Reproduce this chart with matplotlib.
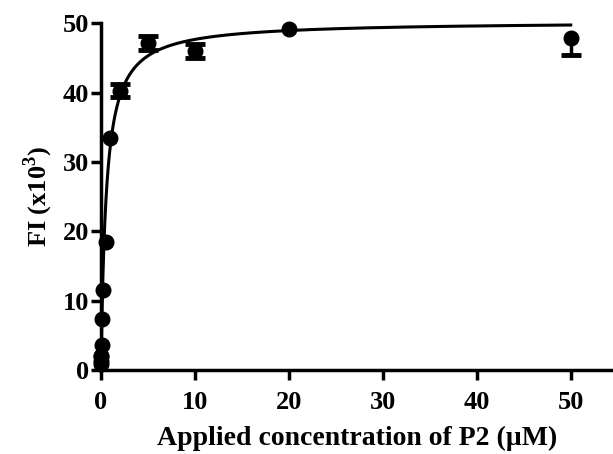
import numpy as np
import matplotlib
matplotlib.use("Agg")
import matplotlib.pyplot as plt

plt.rcParams['font.family'] = ['Liberation Serif', 'DejaVu Serif']
plt.rcParams['font.weight'] = 'bold'
plt.rcParams['mathtext.fontset'] = 'custom'
plt.rcParams['mathtext.bf'] = 'Liberation Serif:bold'
plt.rcParams['mathtext.rm'] = 'Liberation Serif:bold'

conc = [0.0039, 0.0078, 0.0156, 0.03125, 0.0625, 0.125, 0.25, 0.5, 1, 2, 5, 10, 20, 50]
fi = [0.8, 1.3, 2.0, 2.0, 3.6, 7.4, 11.6, 18.4, 33.4, 40.3, 47.2, 46.0, 49.2, 47.9]
err_low = [0, 0, 0, 0, 0, 0, 0, 0, 0, 1.0, 1.0, 1.0, 0, 2.5]
err_high = [0, 0, 0, 0, 0, 0, 0, 0, 0, 1.0, 1.0, 1.0, 0, 0.3]

bmax = 50.3
kd = 0.55

fig = plt.figure(figsize=(6.13, 4.54), dpi=100)
ax = fig.add_axes([0.1648, 0.185, 0.8352, 0.7637])

xf = np.linspace(0, 50, 2000)
ax.plot(xf, bmax * xf / (kd + xf), color='black', lw=2.2, zorder=2)

idx = [i for i in range(len(conc)) if err_low[i] > 0 or err_high[i] > 0]
ax.errorbar([conc[i] for i in idx], [fi[i] for i in idx],
            yerr=[[err_low[i] for i in idx], [err_high[i] for i in idx]],
            fmt='none', ecolor='black', capsize=0, elinewidth=2.5, zorder=3)
# caps (only where they stick out beyond the marker)
lo_i = [i for i in range(len(conc)) if err_low[i] > 0.5]
hi_i = [i for i in range(len(conc)) if err_high[i] > 0.5]
ax.plot([conc[i] for i in lo_i], [fi[i] - err_low[i] for i in lo_i], '_',
        color='black', ms=14, mew=3.5, zorder=3)
ax.plot([conc[i] for i in hi_i], [fi[i] + err_high[i] for i in hi_i], '_',
        color='black', ms=14, mew=3.5, zorder=3)
ax.plot(conc, fi, 'o', color='black', ms=10.5, zorder=4, clip_on=False)

ax.set_xlim(0, 54.5)
ax.set_ylim(0, 50)
ax.set_xticks([0, 10, 20, 30, 40, 50])
ax.set_yticks([0, 10, 20, 30, 40, 50])
for s in ['top', 'right']:
    ax.spines[s].set_visible(False)
for s in ['left', 'bottom']:
    ax.spines[s].set_linewidth(2.5)
ax.tick_params(direction='out', width=2.5, length=7, labelsize=19)
ax.tick_params(axis='x', pad=8)
ax.tick_params(axis='y', pad=1.5)
for lab in ax.get_xticklabels() + ax.get_yticklabels():
    lab.set_fontweight('bold')
ax.set_xlabel('Applied concentration of P2 (\u00b5M)', fontsize=20, fontweight='bold', labelpad=9)
ax.set_ylabel('FI (x10$^\\mathbf{3}$)', fontsize=19, fontweight='bold', labelpad=6)

fig.savefig('out.png', dpi=100)
